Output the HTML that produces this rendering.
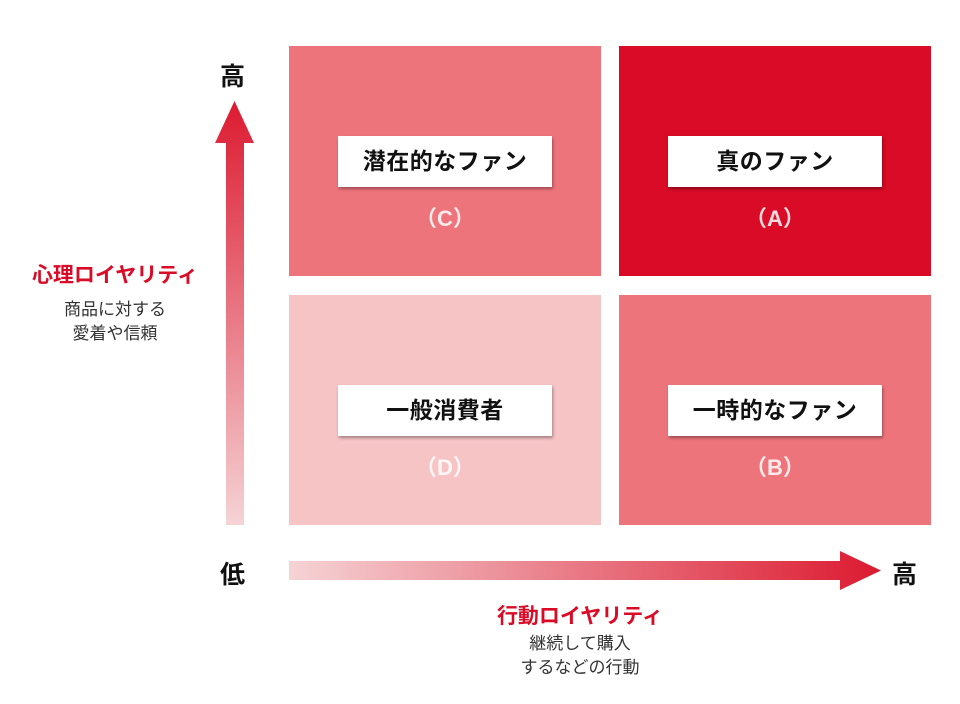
<!DOCTYPE html>
<html><head><meta charset="utf-8"><style>
body{margin:0;width:960px;height:704px;background:#fff;position:relative;overflow:hidden;font-family:"Liberation Sans","Noto Sans CJK JP",sans-serif}
.q{position:absolute;width:312px;height:230px}
.box{position:absolute;left:49px;top:90px;width:214px;height:51px;background:#fff;box-shadow:1px 2px 3px rgba(0,0,0,.35);font-weight:bold;font-size:23px;color:#111;text-align:center;line-height:51px;letter-spacing:0.5px}
.let{position:absolute;left:0;width:312px;top:155px;text-align:center;font-weight:bold;font-size:22px;color:rgba(255,255,255,.85)}
.t{position:absolute;font-weight:bold}
</style></head><body>
<div class="q" style="left:289px;top:46px;background:#ee747c"><div class="box">潜在的なファン</div><div class="let">（C）</div></div>
<div class="q" style="left:619px;top:46px;background:#d90b26"><div class="box">真のファン</div><div class="let">（A）</div></div>
<div class="q" style="left:289px;top:295px;background:#f7c4c6"><div class="box">一般消費者</div><div class="let">（D）</div></div>
<div class="q" style="left:619px;top:295px;background:#ee747c"><div class="box">一時的なファン</div><div class="let">（B）</div></div>
<svg width="960" height="704" style="position:absolute;left:0;top:0">
<defs>
<linearGradient id="gv" x1="0" y1="1" x2="0" y2="0"><stop offset="0" stop-color="#f5d3d5"/><stop offset="1" stop-color="#dc1a30"/></linearGradient>
<linearGradient id="gh" x1="0" y1="0" x2="1" y2="0"><stop offset="0" stop-color="#f5d3d5"/><stop offset="1" stop-color="#dc1a30"/></linearGradient>
</defs>
<polygon points="226,525 226,143 215,143 234.5,101 254,143 244,143 244,525" fill="url(#gv)"/>
<polygon points="289,561 840,561 840,551 881,570.5 840,590 840,580 289,580" fill="url(#gh)"/>
</svg>
<div class="t" style="left:220px;top:57px;font-size:25px;color:#111">高</div>
<div class="t" style="left:220px;top:555px;font-size:25px;color:#111">低</div>
<div class="t" style="left:892px;top:555px;font-size:25px;color:#111">高</div>
<div class="t" style="left:18px;top:259px;width:194px;text-align:center;font-size:21px;color:#d90b26">心理ロイヤリティ</div>
<div style="position:absolute;left:20px;top:298px;width:190px;text-align:center;font-size:17px;line-height:24px;color:#333">商品に対する<br>愛着や信頼</div>
<div class="t" style="left:478px;top:600px;width:204px;text-align:center;font-size:21px;color:#d90b26">行動ロイヤリティ</div>
<div style="position:absolute;left:480px;top:632px;width:200px;text-align:center;font-size:17px;line-height:24px;color:#333">継続して購入<br>するなどの行動</div>
</body></html>
